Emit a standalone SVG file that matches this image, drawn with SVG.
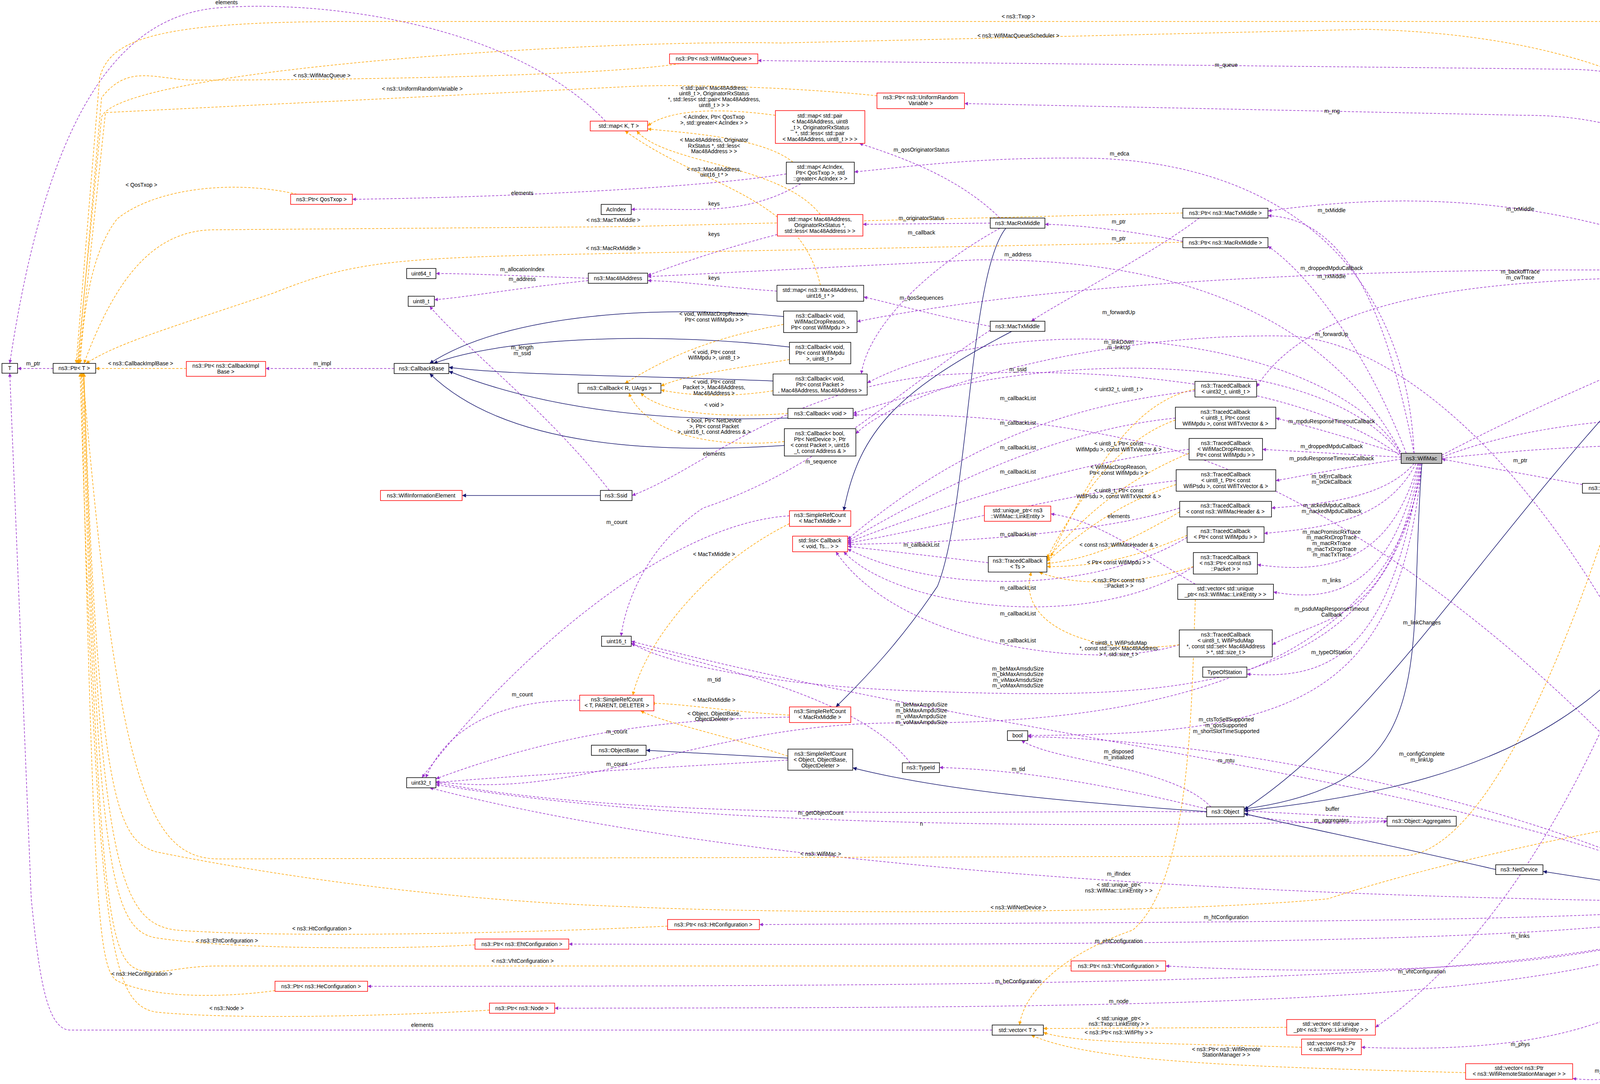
<svg xmlns="http://www.w3.org/2000/svg" width="4904" height="2774" viewBox="0 0 4904 2774">
<defs>
<style>
text{font-family:"Liberation Sans",Arial,sans-serif;font-size:14px;fill:#000;text-anchor:middle}
.b{fill:#fff;stroke:#000;stroke-width:1.5}
.r{fill:#fff;stroke:#f00;stroke-width:1.5}
.g{fill:#bfbfbf;stroke:#000;stroke-width:1.5}
.p{fill:none;stroke:#9a32cd;stroke-width:1.5;stroke-dasharray:6,4;marker-end:url(#mp)}
.o{fill:none;stroke:#ffa500;stroke-width:1.5;stroke-dasharray:6,4;marker-end:url(#mo)}
.i{fill:none;stroke:#191970;stroke-width:1.5;marker-end:url(#mi)}
</style>
<marker id="mp" viewBox="0 0 10 10" refX="10" refY="5" markerWidth="9" markerHeight="9" markerUnits="userSpaceOnUse" orient="auto"><path d="M0,0L10,5L0,10z" fill="#9a32cd"/></marker>
<marker id="mo" viewBox="0 0 10 10" refX="10" refY="5" markerWidth="9" markerHeight="9" markerUnits="userSpaceOnUse" orient="auto"><path d="M0,0L10,5L0,10z" fill="#ffa500"/></marker>
<marker id="mi" viewBox="0 0 10 10" refX="10" refY="5" markerWidth="10" markerHeight="10" markerUnits="userSpaceOnUse" orient="auto"><path d="M0,0L10,5L0,10z" fill="#191970"/></marker>
</defs>
<rect width="4904" height="2774" fill="#fff"/>
<g id="edges">
<path class="p" d="M136,943 L45,943"/>
<path class="p" d="M1009,943 L680,943"/>
<path class="p" d="M1550,310 C1300,50 800,0 560,20 C300,40 120,300 25,930"/>
<path class="p" d="M2540,2636 L180,2636 C120,2636 100,2500 80,2300 L25,955"/>
<path class="p" d="M2013,445 C1800,480 1300,505 902,510"/>
<path class="p" d="M2050,470 C1900,560 1750,530 1616,536"/>
<path class="p" d="M1990,600 C1800,650 1700,690 1658,705"/>
<path class="p" d="M1989,745 C1850,735 1750,720 1658,718"/>
<path class="p" d="M1506,712 C1300,705 1200,700 1116,700"/>
<path class="p" d="M1506,718 C1300,740 1200,760 1112,767"/>
<path class="p" d="M1560,1255 C1400,1050 1200,900 1100,784"/>
<path class="p" d="M2560,558 C2450,450 2300,400 2200,367"/>
<path class="p" d="M2535,571 L2209,574"/>
<path class="p" d="M2560,584 C2350,700 2220,850 2205,957"/>
<path class="p" d="M3028,618 C2900,590 2750,575 2675,574"/>
<path class="p" d="M3070,558 C2950,650 2700,780 2640,822"/>
<path class="p" d="M2535,835 C2400,810 2300,780 2211,760"/>
<path class="p" d="M2535,845 C2300,1000 2100,1200 1800,1300 C1650,1400 1600,1550 1590,1628"/>
<path class="p" d="M3620,1160 C3600,700 3300,420 2800,405 C2500,400 2300,430 2187,440"/>
<path class="p" d="M4460,687 C4400,300 4300,177 4000,177 L1940,155"/>
<path class="p" d="M4465,687 C4400,400 4200,295 3900,295 L2469,265"/>
<path class="p" d="M4434,690 C4000,500 3600,490 3246,540"/>
<path class="p" d="M3620,1160 C3550,800 3450,560 3246,552"/>
<path class="p" d="M3600,1160 C3500,900 3350,700 3246,630"/>
<path class="p" d="M3590,1165 C3400,800 3000,660 2500,665 L1658,708"/>
<path class="p" d="M4434,695 C3800,680 2800,700 2194,823"/>
<path class="p" d="M4434,702 C4000,720 3400,700 3217,990"/>
<path class="p" d="M3590,1165 C3400,850 2600,780 2220,980"/>
<path class="p" d="M4430,2295 C4200,1500 3700,880 3300,860 C2800,850 2300,1000 2191,1110"/>
<path class="p" d="M3590,1168 C3400,900 2700,880 2184,1058"/>
<path class="p" d="M3590,1170 C3300,950 2700,940 2400,960 C2000,1000 1800,1200 1618,1268"/>
<path class="p" d="M3691,1165 C4000,1000 4500,800 4750,712"/>
<path class="p" d="M3691,1170 C4000,1050 4400,1060 4680,1081"/>
<path class="p" d="M3691,1173 C4000,1140 4700,1080 4760,1300 L4786,2033"/>
<path class="p" d="M4740,1101 L4476,1226"/>
<path class="p" d="M4051,1240 L3691,1175"/>
<path class="p" d="M4480,712 C4420,1000 4300,1200 4143,1237"/>
<path class="p" d="M4371,1238 L4235,1249"/>
<path class="p" d="M4470,2295 C4350,1800 4200,1400 4152,1262"/>
<path class="p" d="M4704,700 L4519,700"/>
<path class="p" d="M4770,2058 L4490,2295"/>
<path class="p" d="M3587,1162 C3450,1120 3350,1090 3266,1070"/>
<path class="p" d="M3587,1170 L3232,1150"/>
<path class="p" d="M3587,1175 C3450,1195 3350,1215 3266,1230"/>
<path class="p" d="M3620,1186 C3550,1270 3400,1290 3255,1300"/>
<path class="p" d="M3625,1186 C3550,1330 3400,1350 3236,1365"/>
<path class="p" d="M3630,1186 C3560,1440 3400,1470 3219,1445"/>
<path class="p" d="M3632,1186 C3560,1520 3400,1540 3260,1515"/>
<path class="p" d="M3635,1186 C3560,1600 3400,1570 3257,1650"/>
<path class="p" d="M3637,1186 C3560,1680 3400,1740 3192,1725"/>
<path class="p" d="M3640,1186 C3550,1780 3000,1790 2400,1770 C2000,1760 1700,1700 1616,1645"/>
<path class="p" d="M3640,1186 C3550,1850 2600,1850 2300,1850 C1800,1850 1500,2050 1116,2000"/>
<path class="p" d="M3640,1186 C3580,1800 3300,1880 2631,1882"/>
<path class="p" d="M3060,1495 C2900,1400 2800,1330 2690,1315"/>
<path class="p" d="M4460,2295 C4100,1800 3500,1300 3000,1150 C2600,1050 2300,1060 2184,1062"/>
<path class="p" d="M3059,1000 C2800,1030 2500,1100 2170,1380"/>
<path class="p" d="M3009,1070 C2700,1100 2400,1250 2170,1385"/>
<path class="p" d="M3044,1150 C2750,1180 2400,1300 2170,1388"/>
<path class="p" d="M3011,1230 C2750,1260 2400,1350 2170,1390"/>
<path class="p" d="M3020,1300 C2800,1370 2400,1390 2170,1393"/>
<path class="p" d="M2530,1440 L2170,1398"/>
<path class="p" d="M3039,1375 C2800,1520 2400,1520 2170,1405"/>
<path class="p" d="M3055,1450 C2800,1620 2300,1560 2160,1412"/>
<path class="p" d="M3019,1650 C2800,1720 2300,1650 2140,1412"/>
<path class="p" d="M3089,2070 C2800,2000 2600,1970 2405,1964"/>
<path class="p" d="M3100,2065 C3000,1960 2700,1950 2615,1895"/>
<path class="p" d="M3089,2078 C2600,2070 1700,2110 1116,2003"/>
<path class="p" d="M3551,2100 C2800,2120 1800,2120 1116,2008"/>
<path class="p" d="M3551,2095 L3185,2075"/>
<path class="p" d="M3185,2083 C3300,2110 3450,2110 3551,2102"/>
<path class="p" d="M2330,1952 C2200,1780 1800,1700 1616,1648"/>
<path class="p" d="M2021,1320 C1700,1340 1300,1700 1080,1990"/>
<path class="p" d="M1484,1792 C1300,1790 1150,1850 1090,1990"/>
<path class="p" d="M2021,1835 C1800,1840 1500,1850 1116,1993"/>
<path class="p" d="M2017,1945 C1700,1965 1300,1985 1116,2003"/>
<path class="p" d="M4404,2300 C4000,2100 3300,1900 2631,1885"/>
<path class="p" d="M4410,2295 C3700,1980 2600,1900 1616,1641"/>
<path class="p" d="M4404,2308 C3500,2300 2000,2250 1100,2016"/>
<path class="p" d="M4404,2315 C4200,2360 3000,2360 1944,2366"/>
<path class="p" d="M4410,2321 C4200,2410 3000,2420 1456,2416"/>
<path class="p" d="M4415,2321 C4200,2480 3500,2500 2984,2472"/>
<path class="p" d="M4420,2321 C4200,2510 3000,2524 941,2524"/>
<path class="p" d="M4425,2321 C4200,2580 3000,2578 1420,2580"/>
<path class="p" d="M4470,712 C4300,1500 4000,2300 3521,2629"/>
<path class="p" d="M4440,2321 C4300,2600 4000,2700 3485,2680"/>
<path class="p" d="M4470,2321 C4450,2700 4200,2780 4026,2760"/>
<path class="o" d="M4786,687 C4786,200 4700,55 4500,55 L900,55 C400,55 280,100 255,200 L195,930"/>
<path class="o" d="M4786,1061 C4700,500 4400,100 3500,75 L2000,110 C1500,100 300,180 260,300 L198,930"/>
<path class="o" d="M1740,163 C1500,200 700,205 500,205 C400,205 330,160 260,250 L200,930"/>
<path class="o" d="M2245,245 C2000,220 1700,215 1600,222 L270,288 L202,930"/>
<path class="o" d="M760,497 C600,460 400,480 300,560 C230,650 215,800 205,930"/>
<path class="o" d="M3028,545 L1600,580 L550,588 C400,588 300,700 215,930"/>
<path class="o" d="M3028,620 L1500,650 C1000,660 900,670 700,750 C400,850 300,880 220,930"/>
<path class="o" d="M477,943 L245,943"/>
<path class="o" d="M4140,1262 C4000,1700 3800,2170 3600,2190 L560,2198 C380,2198 300,2000 212,955"/>
<path class="o" d="M4674,2045 C4300,2070 3700,2200 3400,2300 C3000,2340 2000,2340 1600,2320 C1000,2300 500,2200 400,2180 C300,2150 250,2050 215,955"/>
<path class="o" d="M1709,2370 C1300,2390 700,2400 450,2380 C300,2360 250,2200 215,955"/>
<path class="o" d="M1216,2418 C1000,2430 600,2430 400,2400 C280,2380 250,2200 213,955"/>
<path class="o" d="M2742,2472 L560,2472 C450,2472 400,2500 350,2480 C280,2450 250,2300 210,955"/>
<path class="o" d="M704,2535 C600,2550 400,2560 300,2510 C250,2480 240,2300 208,955"/>
<path class="o" d="M1253,2585 C1000,2600 600,2610 400,2590 C280,2570 250,2400 205,955"/>
<path class="o" d="M1985,295 C1800,270 1700,290 1658,322"/>
<path class="o" d="M2030,415 C1950,350 1750,340 1658,330"/>
<path class="o" d="M2100,549 C2000,420 1700,420 1630,335"/>
<path class="o" d="M2100,730 C2050,500 1800,480 1600,335"/>
<path class="o" d="M2006,830 C1800,870 1700,920 1600,981"/>
<path class="o" d="M2021,920 C1900,940 1750,960 1692,988"/>
<path class="o" d="M1979,1000 C1850,1020 1750,1010 1692,998"/>
<path class="o" d="M2017,1058 C1850,1070 1700,1060 1640,1006"/>
<path class="o" d="M2008,1130 C1800,1150 1650,1100 1610,1006"/>
<path class="o" d="M3059,996 C2900,1030 2800,1200 2690,1424"/>
<path class="o" d="M3009,1075 C2850,1130 2750,1300 2680,1428"/>
<path class="o" d="M3044,1160 C2850,1240 2750,1350 2680,1432"/>
<path class="o" d="M3011,1240 C2850,1290 2750,1380 2680,1436"/>
<path class="o" d="M3020,1310 C2900,1380 2800,1430 2680,1442"/>
<path class="o" d="M3039,1370 C2900,1430 2800,1450 2680,1450"/>
<path class="o" d="M3055,1450 C2900,1500 2750,1500 2660,1464"/>
<path class="o" d="M3019,1650 C2800,1680 2600,1600 2640,1464"/>
<path class="o" d="M2021,1340 C1800,1450 1650,1650 1620,1779"/>
<path class="o" d="M2021,1830 C1850,1820 1750,1800 1667,1800"/>
<path class="o" d="M2017,1935 C1850,1880 1700,1850 1640,1819"/>
<path class="o" d="M3060,1534 C3050,1800 3050,2250 2900,2380 C2700,2450 2620,2550 2610,2623"/>
<path class="o" d="M3294,2629 L2671,2632"/>
<path class="o" d="M3332,2680 C3000,2670 2750,2670 2671,2642"/>
<path class="o" d="M3752,2745 C3200,2730 2800,2720 2640,2649"/>
<path class="i" d="M2006,810 C1700,780 1300,800 1100,930"/>
<path class="i" d="M2021,888 C1700,850 1300,860 1110,930"/>
<path class="i" d="M1979,975 C1600,960 1300,960 1149,940"/>
<path class="i" d="M2017,1070 C1700,1080 1400,1050 1149,950"/>
<path class="i" d="M2008,1140 C1700,1160 1300,1150 1100,956"/>
<path class="i" d="M1537,1268 L1183,1268"/>
<path class="i" d="M2590,848 C2300,1000 2200,1100 2160,1307"/>
<path class="i" d="M2575,584 C2480,700 2480,1300 2400,1500 C2300,1650 2200,1750 2140,1809"/>
<path class="i" d="M2017,1940 L1654,1920"/>
<path class="i" d="M3089,2077 C2700,2050 2400,2020 2183,1965"/>
<path class="i" d="M3640,1186 C3600,1700 3700,2000 3185,2070"/>
<path class="i" d="M4460,712 C3900,1200 3600,1800 3185,2072"/>
<path class="i" d="M4470,1251 C4200,1800 3900,2000 3185,2075"/>
<path class="i" d="M3829,2225 C3500,2150 3300,2110 3185,2082"/>
<path class="i" d="M4404,2300 L3950,2230"/>
</g>
<g id="edge-labels">
<text x="85" y="935">m_ptr</text><text x="825" y="935">m_impl</text><text x="360" y="935">&lt; ns3::CallbackImplBase &gt;</text>
<text x="580" y="11">elements</text><text x="1081" y="2628">elements</text><text x="1337" y="499">elements</text>
<text x="1828" y="526">keys</text><text x="1828" y="604">keys</text><text x="1828" y="716">keys</text>
<text x="1337" y="694">m_allocationIndex</text><text x="1337" y="719">m_address</text>
<text x="1337" y="894">m_length</text><text x="1337" y="909">m_ssid</text>
<text x="2359" y="388">m_qosOriginatorStatus</text><text x="2359" y="563">m_originatorStatus</text><text x="2359" y="600">m_callback</text>
<text x="2864" y="572">m_ptr</text><text x="2864" y="615">m_ptr</text><text x="2359" y="767">m_qosSequences</text><text x="2102" y="1186">m_sequence</text>
<text x="2866" y="398">m_edca</text><text x="3139" y="171">m_queue</text><text x="3410" y="289">m_rng</text>
<text x="3892" y="540">m_txMiddle</text><text x="3409" y="543">m_txMiddle</text><text x="3409" y="712">m_rxMiddle</text>
<text x="2606" y="656">m_address</text><text x="3409" y="691">m_droppedMpduCallback</text>
<text x="3892" y="700">m_backoffTrace</text><text x="3892" y="715">m_cwTrace</text>
<text x="2864" y="804">m_forwardUp</text><text x="3409" y="860">m_forwardUp</text>
<text x="2864" y="880">m_linkDown</text><text x="2864" y="894">m_linkUp</text><text x="2606" y="950">m_ssid</text>
<text x="4305" y="865">m_txop</text><text x="4306" y="1060">m_scheduler</text><text x="4306" y="1127">m_device</text>
<text x="4629" y="1147">m_ptr</text><text x="3892" y="1183">m_ptr</text><text x="4306" y="1183">m_mac</text><text x="4306" y="1234">m_mac</text><text x="4306" y="1613">m_mac</text>
<text x="4629" y="691">m_ptr</text><text x="4629" y="2160">m_ptr</text>
<text x="3409" y="1083">m_mpduResponseTimeoutCallback</text><text x="3409" y="1147">m_droppedMpduCallback</text><text x="3409" y="1178">m_psduResponseTimeoutCallback</text>
<text x="3409" y="1224">m_txErrCallback</text><text x="3409" y="1238">m_txOkCallback</text>
<text x="3409" y="1298">m_ackedMpduCallback</text><text x="3409" y="1313">m_nackedMpduCallback</text>
<text x="3409" y="1366">m_macPromiscRxTrace</text><text x="3409" y="1380">m_macRxDropTrace</text><text x="3409" y="1395">m_macRxTrace</text><text x="3409" y="1410">m_macTxDropTrace</text><text x="3409" y="1424">m_macTxTrace</text>
<text x="3409" y="1490">m_links</text><text x="3409" y="1563">m_psduMapResponseTimeout</text><text x="3409" y="1578">Callback</text>
<text x="3640" y="1598">m_linkChanges</text><text x="3409" y="1674">m_typeOfStation</text>
<text x="2606" y="1716">m_beMaxAmsduSize</text><text x="2606" y="1730">m_bkMaxAmsduSize</text><text x="2606" y="1745">m_viMaxAmsduSize</text><text x="2606" y="1759">m_voMaxAmsduSize</text>
<text x="2359" y="1808">m_beMaxAmpduSize</text><text x="2359" y="1823">m_bkMaxAmpduSize</text><text x="2359" y="1838">m_viMaxAmpduSize</text><text x="2359" y="1853">m_voMaxAmpduSize</text>
<text x="3139" y="1846">m_ctsToSelfSupported</text><text x="3139" y="1861">m_qosSupported</text><text x="3139" y="1876">m_shortSlotTimeSupported</text>
<text x="2864" y="1326">elements</text>
<text x="2606" y="1024">m_callbackList</text><text x="2606" y="1087">m_callbackList</text><text x="2606" y="1150">m_callbackList</text><text x="2606" y="1212">m_callbackList</text><text x="2606" y="1372">m_callbackList</text><text x="2359" y="1399">m_callbackList</text><text x="2606" y="1509">m_callbackList</text><text x="2606" y="1575">m_callbackList</text><text x="2606" y="1644">m_callbackList</text>
<text x="2607" y="1973">m_tid</text><text x="1828" y="1744">m_tid</text>
<text x="2864" y="1928">m_disposed</text><text x="2864" y="1943">m_initialized</text><text x="3139" y="1951">m_mtu</text>
<text x="2101" y="2085">m_getObjectCount</text><text x="2359" y="2113">n</text><text x="3411" y="2075">buffer</text><text x="3409" y="2104">m_aggregates</text>
<text x="1579" y="1341">m_count</text><text x="1337" y="1782">m_count</text><text x="1579" y="1877">m_count</text><text x="1579" y="1960">m_count</text>
<text x="3640" y="1934">m_configComplete</text><text x="3640" y="1949">m_linkUp</text><text x="2864" y="2241">m_ifIndex</text>
<text x="3139" y="2352">m_htConfiguration</text><text x="2864" y="2413">m_ehtConfiguration</text><text x="3640" y="2491">m_vhtConfiguration</text><text x="2607" y="2516">m_heConfiguration</text><text x="2864" y="2567">m_node</text>
<text x="3892" y="2400">m_links</text><text x="3892" y="2677">m_phys</text><text x="4144" y="2745">m_stationManagers</text>
<text x="2607" y="47">&lt; ns3::Txop &gt;</text><text x="2607" y="96">&lt; ns3::WifiMacQueueScheduler &gt;</text>
<text x="824" y="198">&lt; ns3::WifiMacQueue &gt;</text><text x="1081" y="232">&lt; ns3::UniformRandomVariable &gt;</text>
<text x="362" y="478">&lt; QosTxop &gt;</text><text x="1570" y="568">&lt; ns3::MacTxMiddle &gt;</text><text x="1570" y="640">&lt; ns3::MacRxMiddle &gt;</text>
<text x="2101" y="2190">&lt; ns3::WifiMac &gt;</text><text x="2607" y="2327">&lt; ns3::WifiNetDevice &gt;</text>
<text x="824" y="2381">&lt; ns3::HtConfiguration &gt;</text><text x="581" y="2412">&lt; ns3::EhtConfiguration &gt;</text><text x="1338" y="2464">&lt; ns3::VhtConfiguration &gt;</text><text x="363" y="2497">&lt; ns3::HeConfiguration &gt;</text><text x="580" y="2585">&lt; ns3::Node &gt;</text>
<text x="1828" y="230">&lt; std::pair&lt; Mac48Address,</text><text x="1828" y="244">uint8_t &gt;, OriginatorRxStatus</text><text x="1828" y="259">*, std::less&lt; std::pair&lt; Mac48Address,</text><text x="1828" y="274">uint8_t &gt; &gt; &gt;</text>
<text x="1828" y="304">&lt; AcIndex, Ptr&lt; QosTxop</text><text x="1828" y="319">&gt;, std::greater&lt; AcIndex &gt; &gt;</text>
<text x="1828" y="363">&lt; Mac48Address, Originator</text><text x="1828" y="378">RxStatus *, std::less&lt;</text><text x="1828" y="392">Mac48Address &gt; &gt;</text>
<text x="1828" y="438">&lt; ns3::Mac48Address,</text><text x="1828" y="452">uint16_t * &gt;</text>
<text x="1828" y="808">&lt; void, WifiMacDropReason,</text><text x="1828" y="823">Ptr&lt; const WifiMpdu &gt; &gt;</text>
<text x="1828" y="906">&lt; void, Ptr&lt; const</text><text x="1828" y="920">WifiMpdu &gt;, uint8_t &gt;</text>
<text x="1828" y="982">&lt; void, Ptr&lt; const</text><text x="1828" y="996">Packet &gt;, Mac48Address,</text><text x="1828" y="1011">Mac48Address &gt;</text>
<text x="1828" y="1041">&lt; void &gt;</text>
<text x="1828" y="1081">&lt; bool, Ptr&lt; NetDevice</text><text x="1828" y="1096">&gt;, Ptr&lt; const Packet</text><text x="1828" y="1110">&gt;, uint16_t, const Address &amp; &gt;</text>
<text x="1828" y="1166">elements</text>
<text x="2864" y="1001">&lt; uint32_t, uint8_t &gt;</text>
<text x="2864" y="1140">&lt; uint8_t, Ptr&lt; const</text><text x="2864" y="1155">WifiMpdu &gt;, const WifiTxVector &amp; &gt;</text>
<text x="2864" y="1200">&lt; WifiMacDropReason,</text><text x="2864" y="1215">Ptr&lt; const WifiMpdu &gt; &gt;</text>
<text x="2864" y="1260">&lt; uint8_t, Ptr&lt; const</text><text x="2864" y="1275">WifiPsdu &gt;, const WifiTxVector &amp; &gt;</text>
<text x="2864" y="1399">&lt; const ns3::WifiMacHeader &amp; &gt;</text><text x="2864" y="1444">&lt; Ptr&lt; const WifiMpdu &gt; &gt;</text>
<text x="2864" y="1490">&lt; ns3::Ptr&lt; const ns3</text><text x="2864" y="1504">::Packet &gt; &gt;</text>
<text x="2864" y="1650">&lt; uint8_t, WifiPsduMap</text><text x="2864" y="1664">*, const std::set&lt; Mac48Address</text><text x="2864" y="1679">&gt; *, std::size_t &gt;</text>
<text x="1828" y="1423">&lt; MacTxMiddle &gt;</text><text x="1828" y="1796">&lt; MacRxMiddle &gt;</text>
<text x="1828" y="1831">&lt; Object, ObjectBase,</text><text x="1828" y="1845">ObjectDeleter &gt;</text>
<text x="2864" y="2269">&lt; std::unique_ptr&lt;</text><text x="2864" y="2284">ns3::WifiMac::LinkEntity &gt; &gt;</text>
<text x="2864" y="2611">&lt; std::unique_ptr&lt;</text><text x="2864" y="2625">ns3::Txop::LinkEntity &gt; &gt;</text>
<text x="2864" y="2647">&lt; ns3::Ptr&lt; ns3::WifiPhy &gt; &gt;</text>
<text x="3139" y="2690">&lt; ns3::Ptr&lt; ns3::WifiRemote</text><text x="3139" y="2704">StationManager &gt; &gt;</text>
</g>
<g id="T"><rect class="b" x="5" y="930" width="40" height="25"/><text x="25" y="947">T</text></g>
<g id="PtrT"><rect class="b" x="136" y="930" width="109" height="25"/><text x="190" y="947">ns3::Ptr&lt; T &gt;</text></g>
<g id="PtrCBImpl"><rect class="r" x="477" y="925" width="203" height="38"/><text x="578" y="941">ns3::Ptr&lt; ns3::CallbackImpl</text><text x="578" y="956">Base &gt;</text></g>
<g id="CallbackBase"><rect class="b" x="1009" y="930" width="140" height="26"/><text x="1079" y="948">ns3::CallbackBase</text></g>
<g id="CallbackRU"><rect class="b" x="1480" y="981" width="212" height="25"/><text x="1586" y="998">ns3::Callback&lt; R, UArgs &gt;</text></g>
<g id="WifiInformationElement"><rect class="r" x="974" y="1255" width="209" height="26"/><text x="1078" y="1273">ns3::WifiInformationElement</text></g>
<g id="Ssid"><rect class="b" x="1537" y="1255" width="81" height="26"/><text x="1577" y="1273">ns3::Ssid</text></g>
<g id="uint16"><rect class="b" x="1540" y="1628" width="76" height="26"/><text x="1578" y="1646">uint16_t</text></g>
<g id="SRCTPD"><rect class="r" x="1484" y="1779" width="190" height="40"/><text x="1579" y="1795">ns3::SimpleRefCount</text><text x="1579" y="1810">&lt; T, PARENT, DELETER &gt;</text></g>
<g id="uint32"><rect class="b" x="1041" y="1990" width="75" height="26"/><text x="1078" y="2008">uint32_t</text></g>
<g id="ObjectBase"><rect class="b" x="1514" y="1907" width="140" height="26"/><text x="1584" y="1925">ns3::ObjectBase</text></g>
<g id="PtrEht"><rect class="r" x="1216" y="2403" width="240" height="26"/><text x="1336" y="2421">ns3::Ptr&lt; ns3::EhtConfiguration &gt;</text></g>
<g id="PtrHe"><rect class="r" x="704" y="2511" width="237" height="26"/><text x="822" y="2529">ns3::Ptr&lt; ns3::HeConfiguration &gt;</text></g>
<g id="PtrNode"><rect class="r" x="1253" y="2567" width="167" height="26"/><text x="1336" y="2585">ns3::Ptr&lt; ns3::Node &gt;</text></g>
<g id="mapKT"><rect class="r" x="1511" y="310" width="147" height="25"/><text x="1584" y="327">std::map&lt; K, T &gt;</text></g>
<g id="PtrQosTxop"><rect class="r" x="744" y="497" width="158" height="26"/><text x="823" y="515">ns3::Ptr&lt; QosTxop &gt;</text></g>
<g id="AcIndex"><rect class="b" x="1539" y="523" width="77" height="26"/><text x="1577" y="541">AcIndex</text></g>
<g id="uint64"><rect class="b" x="1041" y="687" width="75" height="26"/><text x="1078" y="705">uint64_t</text></g>
<g id="Mac48Address"><rect class="b" x="1506" y="699" width="152" height="26"/><text x="1582" y="717">ns3::Mac48Address</text></g>
<g id="uint8"><rect class="b" x="1045" y="758" width="67" height="26"/><text x="1078" y="776">uint8_t</text></g>
<g id="PtrWifiMacQueue"><rect class="r" x="1714" y="138" width="226" height="25"/><text x="1827" y="155">ns3::Ptr&lt; ns3::WifiMacQueue &gt;</text></g>
<g id="PtrURV"><rect class="r" x="2245" y="238" width="224" height="40"/><text x="2357" y="254">ns3::Ptr&lt; ns3::UniformRandom</text><text x="2357" y="269">Variable &gt;</text></g>
<g id="mapPair"><rect class="r" x="1985" y="283" width="229" height="84"/><text x="2099" y="301">std::map&lt; std::pair</text><text x="2099" y="316">&lt; Mac48Address, uint8</text><text x="2099" y="331">_t &gt;, OriginatorRxStatus</text><text x="2099" y="346">*, std::less&lt; std::pair</text><text x="2099" y="361">&lt; Mac48Address, uint8_t &gt; &gt; &gt;</text></g>
<g id="mapAc"><rect class="b" x="2013" y="415" width="174" height="55"/><text x="2100" y="432">std::map&lt; AcIndex,</text><text x="2100" y="447">Ptr&lt; QosTxop &gt;, std</text><text x="2100" y="462">::greater&lt; AcIndex &gt; &gt;</text></g>
<g id="mapMacOrig"><rect class="r" x="1990" y="549" width="219" height="55"/><text x="2099" y="566">std::map&lt; Mac48Address,</text><text x="2099" y="581">OriginatorRxStatus *,</text><text x="2099" y="596">std::less&lt; Mac48Address &gt; &gt;</text></g>
<g id="MacRxMiddle"><rect class="b" x="2535" y="558" width="140" height="26"/><text x="2605" y="576">ns3::MacRxMiddle</text></g>
<g id="PtrMacTxMiddle"><rect class="b" x="3028" y="533" width="218" height="25"/><text x="3137" y="550">ns3::Ptr&lt; ns3::MacTxMiddle &gt;</text></g>
<g id="PtrMacRxMiddle"><rect class="b" x="3028" y="608" width="218" height="26"/><text x="3137" y="626">ns3::Ptr&lt; ns3::MacRxMiddle &gt;</text></g>
<g id="mapMac16"><rect class="b" x="1989" y="730" width="222" height="41"/><text x="2100" y="747">std::map&lt; ns3::Mac48Address,</text><text x="2100" y="762">uint16_t * &gt;</text></g>
<g id="CBdrop"><rect class="b" x="2006" y="796" width="188" height="55"/><text x="2100" y="813">ns3::Callback&lt; void,</text><text x="2100" y="828">WifiMacDropReason,</text><text x="2100" y="843">Ptr&lt; const WifiMpdu &gt; &gt;</text></g>
<g id="MacTxMiddle"><rect class="b" x="2535" y="822" width="140" height="26"/><text x="2605" y="840">ns3::MacTxMiddle</text></g>
<g id="CBmpdu"><rect class="b" x="2021" y="876" width="157" height="55"/><text x="2099" y="893">ns3::Callback&lt; void,</text><text x="2099" y="908">Ptr&lt; const WifiMpdu</text><text x="2099" y="923">&gt;, uint8_t &gt;</text></g>
<g id="Txop"><rect class="b" x="4434" y="687" width="85" height="25"/><text x="4476" y="704">ns3::Txop</text></g>
<g id="PtrTxop"><rect class="b" x="4704" y="687" width="164" height="25"/><text x="4786" y="704">ns3::Ptr&lt; ns3::Txop &gt;</text></g>
<g id="CBpacket"><rect class="b" x="1979" y="957" width="241" height="54"/><text x="2099" y="974">ns3::Callback&lt; void,</text><text x="2099" y="989">Ptr&lt; const Packet &gt;</text><text x="2099" y="1004">, Mac48Address, Mac48Address &gt;</text></g>
<g id="CBvoid"><rect class="b" x="2017" y="1045" width="167" height="26"/><text x="2100" y="1063">ns3::Callback&lt; void &gt;</text></g>
<g id="CBbool"><rect class="b" x="2008" y="1097" width="183" height="70"/><text x="2099" y="1114">ns3::Callback&lt; bool,</text><text x="2099" y="1129">Ptr&lt; NetDevice &gt;, Ptr</text><text x="2099" y="1144">&lt; const Packet &gt;, uint16</text><text x="2099" y="1159">_t, const Address &amp; &gt;</text></g>
<g id="SRCMacTx"><rect class="r" x="2021" y="1307" width="157" height="40"/><text x="2099" y="1323">ns3::SimpleRefCount</text><text x="2099" y="1338">&lt; MacTxMiddle &gt;</text></g>
<g id="listCallback"><rect class="r" x="2029" y="1372" width="141" height="40"/><text x="2099" y="1388">std::list&lt; Callback</text><text x="2099" y="1403">&lt; void, Ts... &gt; &gt;</text></g>
<g id="uniqueLinkEntity"><rect class="r" x="2520" y="1295" width="170" height="39"/><text x="2605" y="1311">std::unique_ptr&lt; ns3</text><text x="2605" y="1326">::WifiMac::LinkEntity &gt;</text></g>
<g id="TCTs"><rect class="b" x="2530" y="1424" width="150" height="40"/><text x="2605" y="1440">ns3::TracedCallback</text><text x="2605" y="1455">&lt; Ts &gt;</text></g>
<g id="TC1"><rect class="b" x="3059" y="976" width="158" height="40"/><text x="3138" y="992">ns3::TracedCallback</text><text x="3138" y="1007">&lt; uint32_t, uint8_t &gt;</text></g>
<g id="TC2"><rect class="b" x="3009" y="1042" width="257" height="55"/><text x="3137" y="1059">ns3::TracedCallback</text><text x="3137" y="1074">&lt; uint8_t, Ptr&lt; const</text><text x="3137" y="1089">WifiMpdu &gt;, const WifiTxVector &amp; &gt;</text></g>
<g id="TC3"><rect class="b" x="3044" y="1122" width="188" height="55"/><text x="3138" y="1139">ns3::TracedCallback</text><text x="3138" y="1154">&lt; WifiMacDropReason,</text><text x="3138" y="1169">Ptr&lt; const WifiMpdu &gt; &gt;</text></g>
<g id="TC4"><rect class="b" x="3011" y="1202" width="255" height="55"/><text x="3138" y="1219">ns3::TracedCallback</text><text x="3138" y="1234">&lt; uint8_t, Ptr&lt; const</text><text x="3138" y="1249">WifiPsdu &gt;, const WifiTxVector &amp; &gt;</text></g>
<g id="TC5"><rect class="b" x="3020" y="1283" width="235" height="40"/><text x="3137" y="1299">ns3::TracedCallback</text><text x="3137" y="1314">&lt; const ns3::WifiMacHeader &amp; &gt;</text></g>
<g id="TC6"><rect class="b" x="3039" y="1348" width="197" height="40"/><text x="3137" y="1364">ns3::TracedCallback</text><text x="3137" y="1379">&lt; Ptr&lt; const WifiMpdu &gt; &gt;</text></g>
<g id="TC7"><rect class="b" x="3055" y="1414" width="164" height="55"/><text x="3137" y="1431">ns3::TracedCallback</text><text x="3137" y="1446">&lt; ns3::Ptr&lt; const ns3</text><text x="3137" y="1461">::Packet &gt; &gt;</text></g>
<g id="vecWifiMacLinkEntity"><rect class="b" x="3015" y="1495" width="245" height="39"/><text x="3137" y="1511">std::vector&lt; std::unique</text><text x="3137" y="1526">_ptr&lt; ns3::WifiMac::LinkEntity &gt; &gt;</text></g>
<g id="TC8"><rect class="b" x="3019" y="1612" width="238" height="69"/><text x="3138" y="1629">ns3::TracedCallback</text><text x="3138" y="1644">&lt; uint8_t, WifiPsduMap</text><text x="3138" y="1659">*, const std::set&lt; Mac48Address</text><text x="3138" y="1674">&gt; *, std::size_t &gt;</text></g>
<g id="TypeOfStation"><rect class="b" x="3079" y="1707" width="113" height="26"/><text x="3135" y="1725">TypeOfStation</text></g>
<g id="SRCMacRx"><rect class="r" x="2021" y="1809" width="157" height="40"/><text x="2099" y="1825">ns3::SimpleRefCount</text><text x="2099" y="1840">&lt; MacRxMiddle &gt;</text></g>
<g id="SRCObject"><rect class="b" x="2017" y="1917" width="166" height="54"/><text x="2100" y="1934">ns3::SimpleRefCount</text><text x="2100" y="1949">&lt; Object, ObjectBase,</text><text x="2100" y="1964">ObjectDeleter &gt;</text></g>
<g id="TypeId"><rect class="b" x="2310" y="1952" width="95" height="25"/><text x="2357" y="1969">ns3::TypeId</text></g>
<g id="bool"><rect class="b" x="2579" y="1870" width="52" height="25"/><text x="2605" y="1887">bool</text></g>
<g id="Object"><rect class="b" x="3089" y="2065" width="96" height="25"/><text x="3137" y="2082">ns3::Object</text></g>
<g id="PtrHt"><rect class="r" x="1709" y="2353" width="235" height="26"/><text x="1826" y="2371">ns3::Ptr&lt; ns3::HtConfiguration &gt;</text></g>
<g id="PtrVht"><rect class="r" x="2742" y="2459" width="242" height="26"/><text x="2863" y="2477">ns3::Ptr&lt; ns3::VhtConfiguration &gt;</text></g>
<g id="vecT"><rect class="b" x="2540" y="2623" width="131" height="26"/><text x="2605" y="2641">std::vector&lt; T &gt;</text></g>
<g id="WifiMac"><rect class="g" x="3587" y="1160" width="104" height="26"/><text x="3639" y="1178">ns3::WifiMac</text></g>
<g id="PtrWMQS"><rect class="b" x="4680" y="1061" width="212" height="40"/><text x="4786" y="1077">ns3::Ptr&lt; ns3::WifiMacQueue</text><text x="4786" y="1092">Scheduler &gt;</text></g>
<g id="PtrWifiMac"><rect class="b" x="4051" y="1237" width="184" height="25"/><text x="4143" y="1254">ns3::Ptr&lt; ns3::WifiMac &gt;</text></g>
<g id="WifiMacQueueScheduler"><rect class="b" x="4371" y="1226" width="211" height="25"/><text x="4476" y="1243">ns3::WifiMacQueueScheduler</text></g>
<g id="Aggregates"><rect class="b" x="3551" y="2089" width="177" height="25"/><text x="3639" y="2106">ns3::Object::Aggregates</text></g>
<g id="NetDevice"><rect class="b" x="3829" y="2213" width="121" height="25"/><text x="3889" y="2230">ns3::NetDevice</text></g>
<g id="WifiNetDevice"><rect class="r" x="4404" y="2295" width="146" height="26"/><text x="4477" y="2313">ns3::WifiNetDevice</text></g>
<g id="PtrWifiNetDevice"><rect class="b" x="4674" y="2033" width="224" height="25"/><text x="4786" y="2050">ns3::Ptr&lt; ns3::WifiNetDevice &gt;</text></g>
<g id="vecTxopLinkEntity"><rect class="r" x="3294" y="2609" width="227" height="40"/><text x="3407" y="2625">std::vector&lt; std::unique</text><text x="3407" y="2640">_ptr&lt; ns3::Txop::LinkEntity &gt; &gt;</text></g>
<g id="vecPhy"><rect class="r" x="3332" y="2659" width="153" height="40"/><text x="3408" y="2675">std::vector&lt; ns3::Ptr</text><text x="3408" y="2690">&lt; ns3::WifiPhy &gt; &gt;</text></g>
<g id="vecRSM"><rect class="r" x="3752" y="2722" width="274" height="40"/><text x="3889" y="2738">std::vector&lt; ns3::Ptr</text><text x="3889" y="2753">&lt; ns3::WifiRemoteStationManager &gt; &gt;</text></g>
</svg>
